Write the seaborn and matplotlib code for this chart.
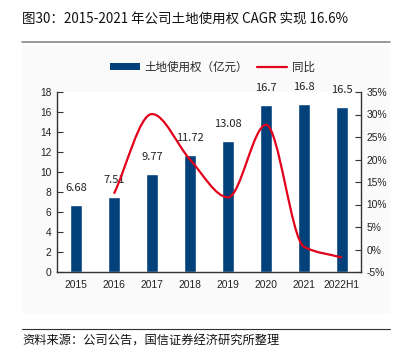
import matplotlib
matplotlib.use('Agg')
import matplotlib.pyplot as plt
from matplotlib.path import Path
from matplotlib.patches import PathPatch, Patch, Rectangle
from matplotlib.lines import Line2D
import seaborn as sns
import numpy as np
import pandas as pd

years = ['2015', '2016', '2017', '2018', '2019', '2020', '2021', '2022H1']
land_use = [6.68, 7.51, 9.77, 11.72, 13.08, 16.7, 16.8, 16.5]
yoy_years = ['2016', '2017', '2018', '2019', '2020', '2021', '2022H1']
yoy = [12.4, 30.1, 20.0, 11.6, 27.7, 0.6, -1.8]

BAR = '#02417A'
RED = '#E3001B'
CJK = ['Noto Sans CJK SC', 'DejaVu Sans']

sns.set_theme(style='white')
plt.rcParams['font.family'] = ['Liberation Sans', 'DejaVu Sans']

fig = plt.figure(figsize=(3.98, 3.53), dpi=100)
fig.patch.set_facecolor('white')
# very light panel behind the chart
fig.patches.append(Rectangle((22 / 398, 1 - 314 / 353), 368 / 398, 269 / 353,
                             transform=fig.transFigure, facecolor='#FAFAFA',
                             edgecolor='none', zorder=-5))

ax = fig.add_axes([57 / 398, 1 - 272 / 353, 304 / 398, 180 / 353])
ax.set_facecolor('white')

df = pd.DataFrame({'year': years, 'value': land_use})
sns.barplot(data=df, x='year', y='value', color=BAR, width=0.3, saturation=1,
            ax=ax, zorder=2)
for i, v in enumerate(land_use):
    ax.annotate(f'{v:g}', (i, v), xytext=(0, 8.5), textcoords='offset points',
                ha='center', va='bottom', fontsize=8, family=CJK, color='#222222')

ax.set_xlim(-0.5, len(years) - 0.5)
ax.set_ylim(0, 18)
ax.set_yticks(range(0, 19, 2))
ax.set_xlabel('')
ax.set_ylabel('')
ax.set_xticks(range(len(years)))
ax.set_xticklabels(years)
ax.tick_params(axis='x', length=0, pad=6, labelsize=7.4, colors='#222222')
ax.set_xticks(np.arange(0.5, len(years) - 0.5, 1), minor=True)
ax.tick_params(axis='x', which='minor', direction='in', length=4, width=0.8, color='#333333')
ax.tick_params(axis='y', direction='in', length=4, width=0.8, color='#333333',
               labelsize=7.4, colors='#222222', pad=4, left=True)
for side in ['top', 'right']:
    ax.spines[side].set_visible(False)
for side in ['left', 'bottom']:
    ax.spines[side].set_color('#333333')
    ax.spines[side].set_linewidth(1.0)

ax2 = ax.twinx()
ax2.set_ylim(-5, 35)
ax2.set_yticks(range(-5, 36, 5))
ax2.set_yticklabels([f'{t}%' for t in range(-5, 36, 5)])
ax2.tick_params(axis='y', direction='in', length=4, width=0.8, color='#333333',
                labelsize=7.4, colors='#222222', pad=4, right=True)
for side in ['top', 'left', 'bottom']:
    ax2.spines[side].set_visible(False)
ax2.spines['right'].set_color('#333333')
ax2.spines['right'].set_linewidth(1.0)
ax2.grid(False)

# smoothed yoy line: monotone cubic tangents turned into bezier segments
xs = np.array([years.index(y) for y in yoy_years], dtype=float)
ys = np.array(yoy, dtype=float)
d = np.diff(ys) / np.diff(xs)
m = np.zeros_like(ys)
m[0], m[-1] = d[0], d[-1]
for k in range(1, len(ys) - 1):
    if d[k - 1] * d[k] > 0:
        m[k] = 2 / (1 / d[k - 1] + 1 / d[k])
verts = [(xs[0], ys[0])]
codes = [Path.MOVETO]
for k in range(len(ys) - 1):
    h = xs[k + 1] - xs[k]
    verts += [(xs[k] + h / 3, ys[k] + m[k] * h / 3),
              (xs[k + 1] - h / 3, ys[k + 1] - m[k + 1] * h / 3),
              (xs[k + 1], ys[k + 1])]
    codes += [Path.CURVE4] * 3
ax2.add_patch(PathPatch(Path(verts, codes), facecolor='none', edgecolor=RED,
                        linewidth=1.6, zorder=3))

handles = [Patch(facecolor=BAR, edgecolor='none'),
           Line2D([0], [0], color=RED, linewidth=1.6)]
fig.legend(handles, ['土地使用权（亿元）', '同比'], loc='center',
           bbox_to_anchor=(0.534, 1 - 67 / 353), ncol=2, frameon=False,
           prop={'family': CJK, 'size': 8.3}, handlelength=2.6, handleheight=0.5,
           columnspacing=0.8, handletextpad=0.4)

fig.text(22 / 398, 1 - 20 / 353, '图30：2015-2021 年公司土地使用权 CAGR 实现 16.6%',
         family=CJK, fontsize=9.7, va='center', ha='left', color='#111111')
fig.add_artist(Line2D([22 / 398, 390 / 398], [1 - 42 / 353] * 2,
                      transform=fig.transFigure, color='#7F7F7F', linewidth=1.1))
fig.add_artist(Line2D([22 / 398, 390 / 398], [1 - 329 / 353] * 2,
                      transform=fig.transFigure, color='#333333', linewidth=0.8))
fig.text(22 / 398, 1 - 341 / 353, '资料来源：公司公告，国信证券经济研究所整理',
         family=CJK, fontsize=8.8, va='center', ha='left', color='#111111')

fig.savefig('out.png', dpi=100)
